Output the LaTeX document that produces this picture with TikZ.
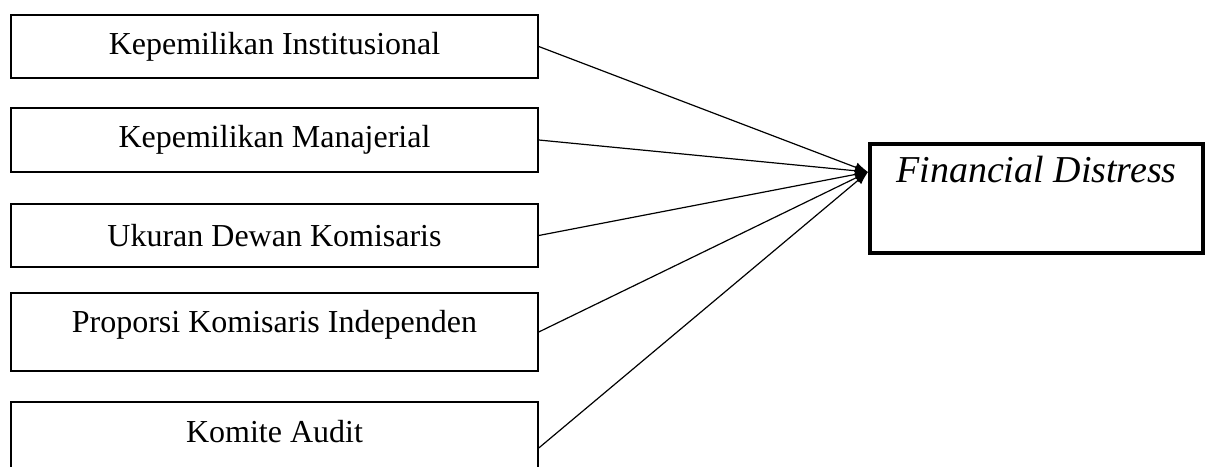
\documentclass[tikz,border=0pt]{standalone}
\usepackage{fontspec}
\setmainfont{Liberation Serif}
\usetikzlibrary{arrows.meta, positioning, calc}

\begin{document}
\begin{tikzpicture}[
    x=0.5pt, y=-0.5pt,
    vbox/.style={rectangle, draw=black, line width=0.75pt, fill=white,
                  minimum width=263.5pt, inner sep=0pt,
                  font=\fontsize{16}{19}\selectfont, align=center},
    dbox/.style={rectangle, draw=black, line width=2pt, fill=white,
                  minimum width=166.5pt, minimum height=54.5pt, inner sep=0pt,
                  font=\fontsize{19}{22}\selectfont\itshape, align=center},
    arr/.style={-{Latex[length=6.5pt, width=5pt]}, line width=0.6pt, color=black}
  ]
    \useasboundingbox (0,0) rectangle (1205,466);

    \node[vbox, minimum height=31.5pt] (inst) at (274.5,46.5) {Kepemilikan Institusional};
    \node[vbox, minimum height=32pt] (mnj) at (274.5,140) {Kepemilikan Manajerial};
    \node[vbox, minimum height=31.5pt] (dewan) at (274.5,235.5) {Ukuran Dewan Komisaris};
    \node[vbox, minimum height=39pt, text height=11pt, text depth=11pt] (indep) at (274.5,332) {Proporsi Komisaris Independen};
    \node[vbox, minimum height=46pt, text height=11pt, text depth=17pt] (audit) at (274.5,448) {Komite Audit};

    \node[dbox, text height=13pt, text depth=29.5pt] (fd) at (1036.5,198.5) {Financial Distress};
    \coordinate (tip) at (868,172);

    \draw[arr] (inst.east) -- (tip);
    \draw[arr] (mnj.east) -- (tip);
    \draw[arr] (dewan.east) -- (tip);
    \draw[arr] (indep.east) -- (tip);
    \draw[arr] (audit.east) -- (tip);
  \end{tikzpicture}
\end{document}
